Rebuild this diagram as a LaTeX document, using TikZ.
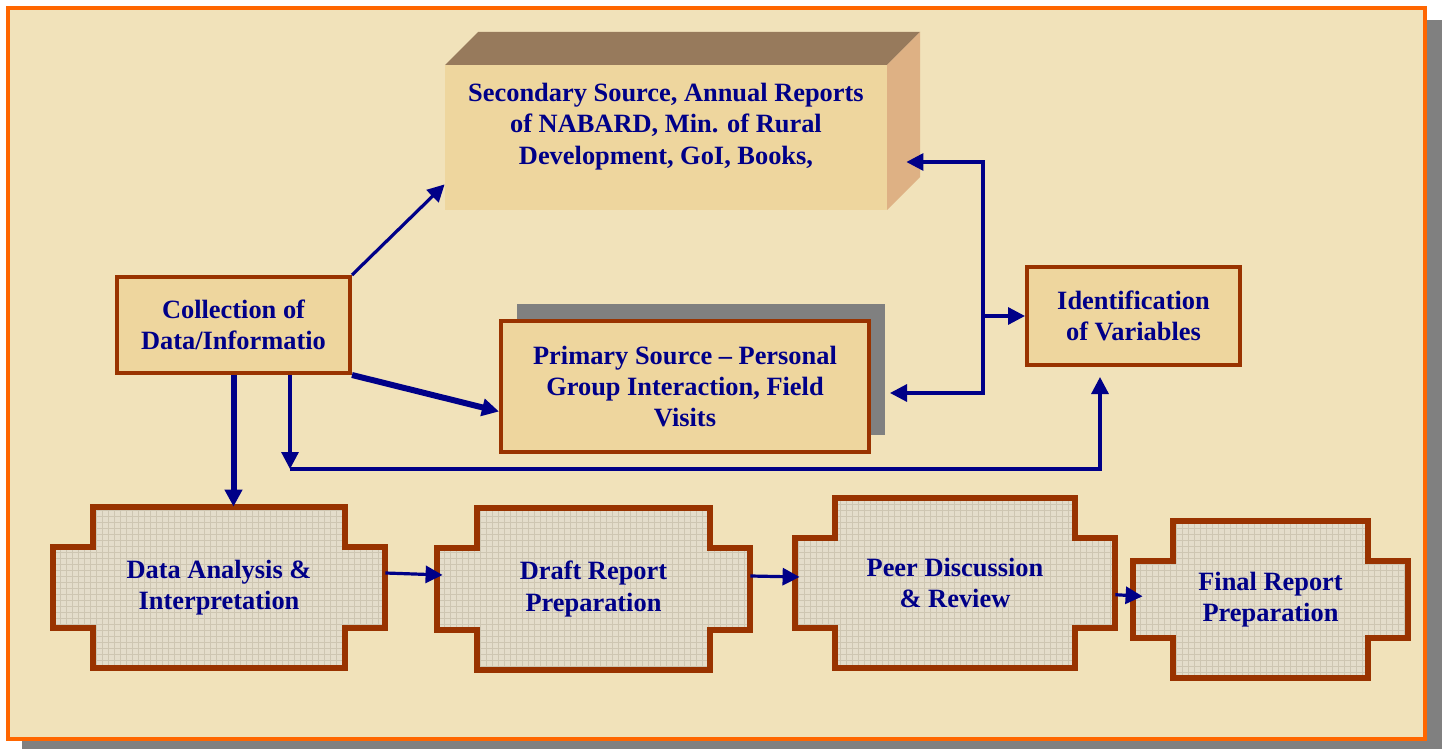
\documentclass[tikz,border=0pt]{standalone}
\usepackage{fontspec}
\setmainfont{Liberation Serif}
\usetikzlibrary{arrows.meta, calc, shadows}

\definecolor{navy}{RGB}{0,0,136}
\definecolor{rust}{RGB}{153,51,0}
\definecolor{frameorange}{RGB}{255,102,0}
\definecolor{shadowgray}{RGB}{128,128,128}
\definecolor{parch}{RGB}{241,226,186}
\definecolor{paper}{RGB}{238,214,158}
\definecolor{linen}{RGB}{228,221,203}
\definecolor{weave}{RGB}{206,198,178}
\definecolor{boxtop}{RGB}{151,122,92}
\definecolor{boxside}{RGB}{222,177,132}

\begin{document}
\begin{tikzpicture}[
        x=0.5pt, y=-0.5pt,
        lbl/.style={
            font=\bfseries\fontsize{13.2}{15.7}\selectfont,
            text=navy, align=center
        },
        box/.style={
            lbl, draw=rust, line width=2pt, fill=paper, inner sep=0pt
        },
        stage/.style={lbl, inner sep=0pt},
        stageline/.style={
            draw=rust, line width=3pt, fill=linen,
            path picture={
                \draw[weave, line width=0.4pt]
                  (path picture bounding box.south west) grid[step=3pt]
                  (path picture bounding box.north east);
            }
        },
        arr/.style={-{Triangle[length=8.5pt, width=8.5pt]}, line width=1.6pt, color=navy},
        arrthick/.style={arr, line width=3pt}
    ]
    \useasboundingbox (0,0) rectangle (1448,749);

    % frame
    \fill[shadowgray] (22,20) rectangle (1442,749);
    \filldraw[fill=parch, draw=frameorange, line width=2pt] (8,8) rectangle (1425,739);

    % secondary source block
    \fill[boxtop] (445,65) -- (478,32) -- (920,32) -- (887,65) -- cycle;
    \fill[boxside] (887,65) -- (920,32) -- (920,177) -- (887,210) -- cycle;
    \node[lbl, fill=paper, inner sep=0pt, minimum width=221pt, minimum height=72.5pt,
          text depth=14pt] (sec) at (666,137.5)
        {Secondary Source, Annual Reports\\of NABARD, Min. of Rural\\Development, GoI, Books,};

    \node[box, minimum width=116.5pt, minimum height=48pt] (coll) at (233.5,325)
        {Collection of\\Data/Informatio};
    \node[box, minimum width=184pt, minimum height=65.5pt,
          general shadow={fill=shadowgray, shadow xshift=8pt, shadow yshift=8.5pt}] (prim) at (685,386.5)
        {Primary Source – Personal\\Group Interaction, Field\\Visits};
    \node[box, minimum width=106.5pt, minimum height=49pt] (ident) at (1133.5,316)
        {Identification\\of Variables};

    % stage outlines
    \foreach \cx/\cy/\hw/\hh in {219/587.5/166/80.5, 593.5/589/156.5/81,
                                 955/583/160/85, 1270.5/599.5/137.5/78.5}
      \path[stageline] (\cx-\hw+40,\cy-\hh) -- ++(2*\hw-80,0) -- ++(0,40) -- ++(40,0)
        -- ++(0,2*\hh-80) -- ++(-40,0) -- ++(0,40) -- ++(-2*\hw+80,0) -- ++(0,-40)
        -- ++(-40,0) -- ++(0,-2*\hh+80) -- ++(40,0) -- cycle;

    \node[stage, minimum width=166pt, minimum height=80.5pt] (dana) at (219,587.5)
        {Data Analysis \&\\Interpretation};
    \node[stage, minimum width=156.5pt, minimum height=81pt] (draft) at (593.5,589)
        {Draft Report\\Preparation};
    \node[stage, minimum width=160pt, minimum height=85pt] (peer) at (955,583)
        {Peer Discussion\\\& Review};
    \node[stage, minimum width=137.5pt, minimum height=78.5pt] (final) at (1270.5,599.5)
        {Final Report\\Preparation};

    \coordinate (turn) at (290,469);
    \coordinate (hub) at (983,316);

    % connectors
    \draw[arr] (coll.north east) -- ([yshift=13pt]sec.south west);
    \draw[arrthick] (coll.south east) -- ([yshift=-12.5pt]prim.west);
    \draw[arrthick] (coll.south) -- (coll.south |- dana.north);
    \draw[arr] (coll.south -| turn) -- (turn);
    \draw[arr] (turn) -| ([xshift=-16.75pt, yshift=-5pt]ident.south);
    \draw[arr] (hub) -- (ident.west);
    \draw[arr] (hub) |- ([xshift=9.5pt, yshift=-12.25pt]sec.east);
    \draw[arr] (hub) |- ([xshift=9.5pt, yshift=-3.25pt]prim.east);
    \draw[arr] ([yshift=7.25pt]dana.east) -- ([xshift=3pt, yshift=7pt]draft.west);
    \draw[arr] ([yshift=6.5pt]draft.east) -- ([xshift=2.5pt, yshift=3pt]peer.west);
    \draw[arr] ([yshift=-5.85pt]peer.east) -- ([xshift=5pt, yshift=1.6pt]final.west);
\end{tikzpicture}
\end{document}
